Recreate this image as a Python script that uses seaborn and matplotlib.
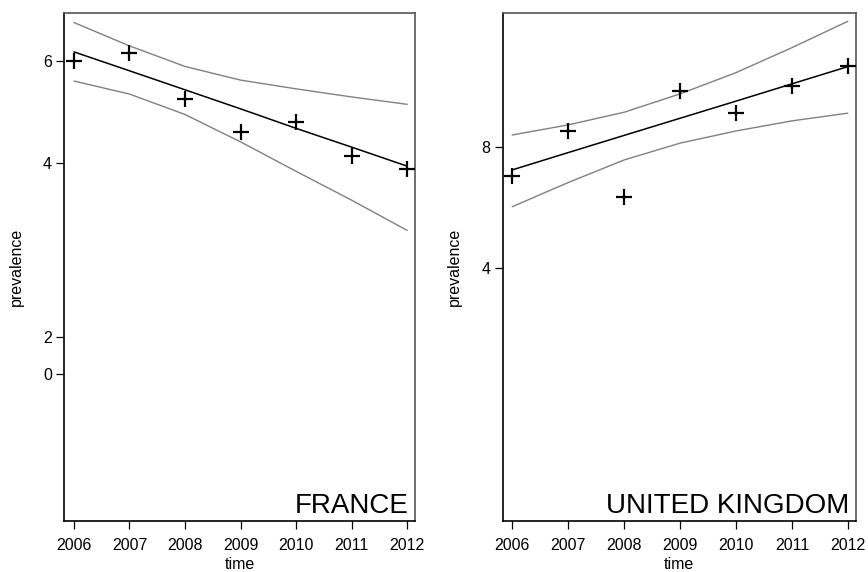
import numpy as np
import pandas as pd
import matplotlib
matplotlib.use("Agg")
import matplotlib.pyplot as plt
import seaborn as sns

# years shared by both panels
years = [2006, 2007, 2008, 2009, 2010, 2011, 2012]

# France: observed prevalence, fitted trend and its band
fr_obs = [6.00, 6.19, 5.15, 4.53, 4.70, 4.12, 3.90]
fr_fit = [6.22, 5.77, 5.35, 4.96, 4.59, 4.26, 3.95]
fr_upper = [6.99, 6.37, 5.87, 5.56, 5.37, 5.20, 5.05]
fr_lower = [5.54, 5.26, 4.85, 4.35, 3.87, 3.45, 3.06]

# United Kingdom
uk_obs = [6.76, 8.75, 5.99, 11.0, 9.69, 11.34, 12.7]
uk_fit = [7.00, 7.73, 8.53, 9.41, 10.38, 11.46, 12.65]
uk_upper = [8.55, 9.06, 9.74, 10.82, 12.22, 14.1, 16.4]
uk_lower = [5.67, 6.51, 7.41, 8.16, 8.75, 9.27, 9.69]

# axis ticks as printed on the chart
fr_ytick_pos = [1.726, 2, 4, 6]
fr_ytick_lab = ["0", "2", "4", "6"]
uk_ytick_pos = [4, 8]
uk_ytick_lab = ["4", "8"]

sns.set_style("ticks")
plt.rcParams["font.family"] = ["Liberation Sans", "DejaVu Sans"]
plt.rcParams["text.color"] = "black"
plt.rcParams["axes.labelcolor"] = "black"
plt.rcParams["xtick.color"] = "black"
plt.rcParams["ytick.color"] = "black"

fig = plt.figure(figsize=(8.68, 5.72), dpi=100)
ax1 = fig.add_axes([0.0743, 0.0892, 0.4037, 0.8881])
ax2 = fig.add_axes([0.5791, 0.0892, 0.4067, 0.8881])

panels = [
    (ax1, fr_obs, fr_fit, fr_upper, fr_lower, "FRANCE", (0.964, 7.26), fr_ytick_pos, fr_ytick_lab),
    (ax2, uk_obs, uk_fit, uk_upper, uk_lower, "UNITED KINGDOM", (0.937, 17.2), uk_ytick_pos, uk_ytick_lab),
]

for ax, obs, fit, up, lo, name, ylim, tpos, tlab in panels:
    df = pd.DataFrame({"time": years, "obs": obs, "fit": fit, "upper": up, "lower": lo})
    sns.lineplot(data=df, x="time", y="upper", ax=ax, color="#808080", lw=1.0)
    sns.lineplot(data=df, x="time", y="lower", ax=ax, color="#808080", lw=1.0)
    sns.lineplot(data=df, x="time", y="fit", ax=ax, color="black", lw=1.1)
    sns.scatterplot(data=df, x="time", y="obs", ax=ax, marker="+", s=130,
                    color="black", linewidth=1.6, zorder=5)

    ax.set_yscale("log")
    ax.set_ylim(*ylim)
    ax.set_xlim(2005.83, 2012.14)
    ax.yaxis.set_minor_locator(matplotlib.ticker.NullLocator())
    ax.set_yticks(tpos)
    ax.set_yticklabels(tlab)
    ax.set_xticks(years)
    ax.set_xticklabels([str(y) for y in years])
    ax.tick_params(axis="both", length=6, width=0.9, labelsize=11.5, color="black",
                   labelcolor="black")
    ax.tick_params(axis="x", pad=6)
    ax.tick_params(axis="y", pad=3)

    ax.set_xlabel("time", fontsize=11.5, labelpad=3)
    ax.set_ylabel("prevalence", fontsize=11.5, labelpad=14)

    for side in ["left", "bottom"]:
        ax.spines[side].set_color("black")
        ax.spines[side].set_linewidth(1.2)
    for side in ["top", "right"]:
        ax.spines[side].set_color("#555555")
        ax.spines[side].set_linewidth(1.2)

    ax.text(0.982, 0.016, name, transform=ax.transAxes, ha="right", va="baseline",
            fontsize=20, color="black")

fig.savefig("out.png", dpi=100)
